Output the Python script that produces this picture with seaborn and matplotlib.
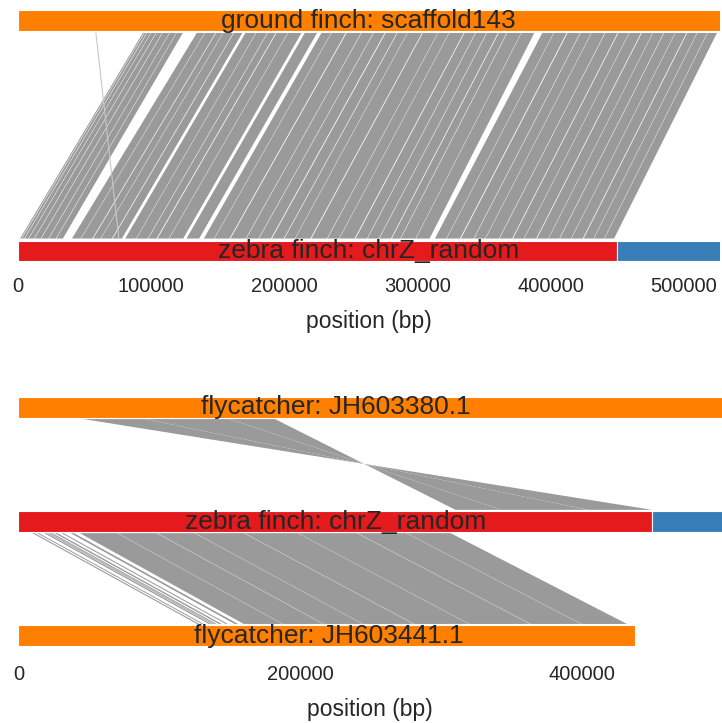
import matplotlib
matplotlib.use("Agg")
import matplotlib.pyplot as plt
import seaborn as sns

# ---- sequence lengths (bp) ----
ground_finch_len = 530000
zebra_len = 528000
zebra_core_len = 449500          # red part of chrZ_random
fly_380_len = 510000
fly_441_len = 437000

# ---- ground finch scaffold143 (top) vs zebra finch chrZ_random (bottom) ----
gz_zf_start = [1500, 2900, 5000, 8200, 12400, 17400, 23200, 28800,
               40500, 47300, 56400, 62300, 71100,
               80500, 88900, 97800, 104700, 113500, 126500,
               139500, 147500, 159500, 171400, 181000, 190600, 200000,
               208100, 220200, 232400, 241300, 253400, 262400, 271300,
               280600, 287400, 298800,
               313000, 321900, 332500, 342400, 351000, 361500, 371600,
               380100, 389600, 398300, 406800, 415500, 424600, 432400,
               440300]
gz_zf_end = [2400, 4600, 7800, 12000, 17000, 22800, 28400, 33700,
             47000, 55800, 62000, 70500, 78000,
             88600, 97400, 104000, 113200, 124000, 136000,
             147200, 158800, 171000, 180600, 189900, 199500, 207800,
             219500, 232000, 241000, 252700, 262000, 270900, 280000,
             287000, 298500, 309000,
             321600, 331800, 342000, 350700, 361100, 371000, 379800,
             389000, 398000, 406400, 415200, 424000, 432100, 440000,
             447500]
gz_gf_start = [93700, 95000, 97000, 99900, 103900, 108500, 113900, 119100,
               134200, 140400, 148700, 154100, 162100,
               170700, 178800, 187500, 194100, 202700, 215300,
               227800, 235400, 246700, 257900, 267000, 276000, 284900,
               292500, 303900, 315400, 323800, 335200, 343700, 352100,
               360900, 367300, 378000,
               393600, 402300, 412600, 422300, 430600, 440900, 450700,
               459000, 468300, 476700, 485000, 493500, 502400, 510000,
               517700]
gz_gf_end = [94600, 96600, 99600, 103500, 108100, 113600, 118800, 123700,
             140100, 148200, 153800, 161600, 168400,
             178500, 187100, 193500, 202400, 212800, 224500,
             235100, 246000, 257500, 266600, 275300, 284400, 292200,
             303300, 315100, 323500, 334600, 343300, 351700, 360300,
             366900, 377700, 387600,
             402000, 411900, 421900, 430300, 440500, 450100, 458700,
             467700, 476400, 484600, 493200, 501800, 509700, 517400,
             524700]
# isolated hit
stray_zf = [75700]
stray_gf = [58500]

# ---- flycatcher JH603380.1 (top) vs zebra finch (middle), inverted ----
f380_start = [46000, 90150, 150150]
f380_end = [90000, 150000, 182000]
f380_zf_start = [449400, 404150, 342650]
f380_zf_end = [404300, 342800, 310000]

# ---- zebra finch (middle) vs flycatcher JH603441.1 (bottom) ----
f441_zf_start = [9900, 13200, 18300, 20600, 22400, 25600, 30500, 37000,
                 43500, 70300, 98400, 125300, 160400, 198300, 240400,
                 275300]
f441_zf_end = [11500, 14600, 20000, 21800, 24000, 27600, 32000, 39400,
               70000, 98000, 125000, 160000, 198000, 240000, 275000,
               306500]
f441_start = [126700, 130000, 135000, 137300, 139000, 142200, 147000,
              153400, 159800, 187500, 216500, 244300, 280600, 319700,
              363200, 399300]
f441_end = [128300, 131400, 136700, 138500, 140600, 144200, 148500,
            155800, 187200, 216100, 244000, 280200, 319400, 362800,
            399000, 431600]

top_ticks = [0, 100000, 200000, 300000, 400000, 500000]
bottom_ticks = [0, 200000, 400000]

sns.set_theme(style="white")
plt.rcParams["font.family"] = ["Liberation Sans", "DejaVu Sans"]
TICK_FS, LABEL_FS, NAME_FS = 14.5, 16.5, 19

pal = sns.color_palette("Set1")
RED, BLUE, ORANGE = pal[0], pal[1], pal[4]
LINK = "#9a9a9a"
TXT = "#262626"

W, H = 722, 723
fig = plt.figure(figsize=(W / 100, H / 100), dpi=100)


def px_axes(x0, y0, x1, y1):
    return fig.add_axes([x0 / W, 1 - y1 / H, (x1 - x0) / W, (y1 - y0) / H])


def draw_bar(ax, y, h, start, length, color):
    ax.barh(y, length, height=h, left=start, color=color,
            edgecolor="white", linewidth=0.8)


def draw_links(ax, lo_start, lo_end, hi_start, hi_end, y_lo, y_hi):
    for a, b, c, d in zip(lo_start, lo_end, hi_start, hi_end):
        ax.fill([a, b, d, c], [y_lo, y_lo, y_hi, y_hi],
                color=LINK, linewidth=0, antialiased=True)


def style_axis(ax, ticks, xmax, pad, labelpad):
    ax.set_xlim(0, xmax)
    ax.set_yticks([])
    ax.set_xticks(ticks)
    ax.set_xticklabels([str(t) for t in ticks])
    ax.tick_params(axis="x", length=0, pad=pad, labelsize=TICK_FS,
                   labelcolor=TXT)
    ax.set_xlabel("position (bp)", fontsize=LABEL_FS, color=TXT,
                  labelpad=labelpad)
    sns.despine(ax=ax, left=True, bottom=True)


# ---------------- top panel ----------------
ax1 = px_axes(18, 9, 720, 262.5)
bh = 0.09
y_lo, y_hi = bh / 2 + 0.009, 1 - bh / 2 - 0.009
draw_links(ax1, gz_zf_start, gz_zf_end, gz_gf_start, gz_gf_end, y_lo, y_hi)
ax1.plot([stray_zf[0], stray_gf[0]], [y_lo, y_hi],
         color="#c8c8c8", linewidth=0.8)
draw_bar(ax1, 1, bh, 0, ground_finch_len, ORANGE)
draw_bar(ax1, 0, bh, 0, zebra_core_len, RED)
draw_bar(ax1, 0, bh, zebra_core_len, zebra_len - zebra_core_len, BLUE)
ax1.text(263000, 1, "ground finch: scaffold143", ha="center", va="center",
         fontsize=NAME_FS, color=TXT)
ax1.text(263500, 0, "zebra finch: chrZ_random", ha="center", va="center",
         fontsize=NAME_FS, color=TXT)
ax1.set_ylim(-0.05, 1.05)
style_axis(ax1, top_ticks, 527000, pad=10.6, labelpad=10)

# ---------------- bottom panel ----------------
ax2 = px_axes(18.4, 396, 722, 647)
bh2 = 0.184
gap = 0.01
draw_links(ax2, f380_zf_start, f380_zf_end, f380_start, f380_end,
           1 + bh2 / 2 + gap, 2 - bh2 / 2 - gap)
draw_links(ax2, f441_start, f441_end, f441_zf_start, f441_zf_end,
           bh2 / 2 + gap, 1 - bh2 / 2 - gap)
draw_bar(ax2, 2, bh2, 0, fly_380_len, ORANGE)
draw_bar(ax2, 1, bh2, 0, zebra_core_len, RED)
draw_bar(ax2, 1, bh2, zebra_core_len, zebra_len - zebra_core_len, BLUE)
draw_bar(ax2, 0, bh2, 0, fly_441_len, ORANGE)
ax2.text(225000, 2, "flycatcher: JH603380.1", ha="center", va="center",
         fontsize=NAME_FS, color=TXT)
ax2.text(225000, 1, "zebra finch: chrZ_random", ha="center", va="center",
         fontsize=NAME_FS, color=TXT)
ax2.text(220000, 0, "flycatcher: JH603441.1", ha="center", va="center",
         fontsize=NAME_FS, color=TXT)
ax2.set_ylim(-0.1, 2.1)
style_axis(ax2, bottom_ticks, 499000, pad=13.2, labelpad=9.7)

fig.savefig("out.png", dpi=100)
